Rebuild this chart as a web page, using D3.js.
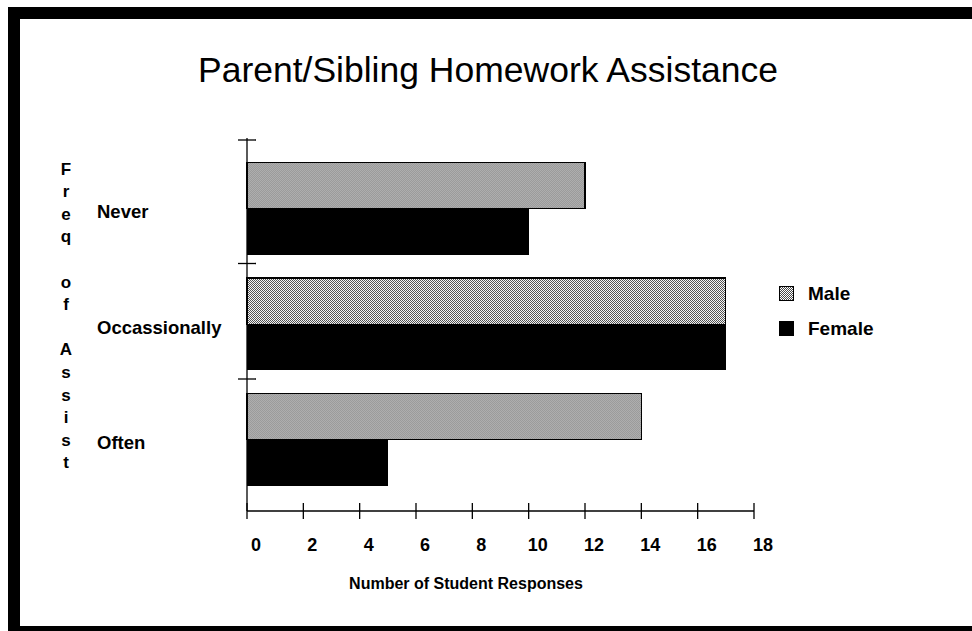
<!DOCTYPE html>
<html>
<head>
<meta charset="utf-8">
<script src="https://cdn.jsdelivr.net/npm/d3@7/dist/d3.min.js"></script>
<style>
  html, body { margin: 0; padding: 0; background: #fff; }
  svg { display: block; }
  text { font-family: "Liberation Sans", Arial, Helvetica, sans-serif; fill: #000; }
</style>
</head>
<body>
<svg id="chart" width="972" height="631"></svg>
<script>
// Frequency of homework help from parents or siblings, by gender
const categories = ["Never", "Occassionally", "Often"];
const seriesNames = ["Male", "Female"];
const maleValues = [12, 17, 14];
const femaleValues = [10, 17, 5];
const xTickValues = [0, 2, 4, 6, 8, 10, 12, 14, 16, 18];
// Stacked y-axis title, one character per line
const axisTitle = "Freq of Assist";

const svg = d3.select("#chart");
const W = 972, H = 631;

svg.append("rect").attr("width", W).attr("height", H).attr("fill", "#fff");

// Fine halftone fill for the male bars
const defs = svg.append("defs");
const pat = defs.append("pattern")
  .attr("id", "halftone")
  .attr("width", 2).attr("height", 2)
  .attr("patternUnits", "userSpaceOnUse");
pat.append("rect").attr("width", 2).attr("height", 2).attr("fill", "#fff");
pat.append("rect").attr("x", 0).attr("y", 0).attr("width", 1).attr("height", 1).attr("fill", "#4a4a4a");
pat.append("rect").attr("x", 1).attr("y", 1).attr("width", 1).attr("height", 1).attr("fill", "#4a4a4a");

const fills = { Male: "url(#halftone)", Female: "#000" };

// Frame
svg.append("rect").attr("x", 8).attr("y", 7).attr("width", W - 8).attr("height", 12).attr("fill", "#000");
svg.append("rect").attr("x", 8).attr("y", 7).attr("width", 12).attr("height", H - 7).attr("fill", "#000");
svg.append("rect").attr("x", 8).attr("y", 626).attr("width", W - 8).attr("height", 5).attr("fill", "#000");

// Title
svg.append("text")
  .attr("x", 488).attr("y", 82)
  .attr("text-anchor", "middle")
  .attr("font-size", 35)
  .attr("textLength", 580)
  .attr("lengthAdjust", "spacingAndGlyphs")
  .text("Parent/Sibling Homework Assistance");

// Scales
const x = d3.scaleLinear().domain([0, 18]).range([247, 754]);
const y = d3.scaleBand().domain(categories).range([151, 497.5])
  .paddingInner(0.2).paddingOuter(0.1);
const ySub = d3.scaleBand().domain(seriesNames).range([0, y.bandwidth()]);

const rows = categories.map((c, i) => ({ cat: c, Male: maleValues[i], Female: femaleValues[i] }));

// Bars
const groups = svg.append("g").selectAll("g")
  .data(rows).join("g")
  .attr("transform", d => `translate(0,${y(d.cat)})`);

groups.selectAll("rect")
  .data(d => seriesNames.map(s => ({ s, v: d[s] })))
  .join("rect")
  .attr("x", x(0))
  .attr("y", d => ySub(d.s))
  .attr("width", d => x(d.v) - x(0))
  .attr("height", ySub.bandwidth())
  .attr("fill", d => fills[d.s])
  .attr("stroke", d => d.s === "Male" ? "#000" : "none")
  .attr("stroke-width", 1.2)
  .attr("shape-rendering", "crispEdges");

// X axis
const xAxisY = 511;
const xAxis = svg.append("g").attr("transform", `translate(0,${xAxisY})`);
xAxis.append("line").attr("x1", x(0)).attr("x2", x(18)).attr("stroke", "#000").attr("stroke-width", 1.3);
xAxis.selectAll("line.tick").data(xTickValues).join("line")
  .attr("class", "tick")
  .attr("x1", d => x(d)).attr("x2", d => x(d))
  .attr("y1", -8).attr("y2", 8)
  .attr("stroke", "#000").attr("stroke-width", 1.3);
xAxis.selectAll("text").data(xTickValues).join("text")
  .attr("x", d => x(d) + 9).attr("y", 40)
  .attr("text-anchor", "middle")
  .attr("font-size", 18).attr("font-weight", "bold")
  .text(d => d);

svg.append("text")
  .attr("x", 466).attr("y", 589)
  .attr("text-anchor", "middle")
  .attr("font-size", 16).attr("font-weight", "bold")
  .text("Number of Student Responses");

// Y axis
const yAxis = svg.append("g");
const yTop = 138;
yAxis.append("line").attr("x1", x(0)).attr("x2", x(0)).attr("y1", yTop).attr("y2", xAxisY)
  .attr("stroke", "#000").attr("stroke-width", 1.3);
const step = y.step();
const yTicks = [yTop + 2].concat(categories.slice(1).map(c => y(c) - step * y.paddingInner() / 2 - 3));
yAxis.selectAll("line.tick").data(yTicks).join("line")
  .attr("class", "tick")
  .attr("x1", x(0) - 9).attr("x2", x(0) + 9)
  .attr("y1", d => d).attr("y2", d => d)
  .attr("stroke", "#000").attr("stroke-width", 1.3);

// Category labels, centred on each band
svg.append("g").selectAll("text")
  .data(categories).join("text")
  .attr("x", 97)
  .attr("y", d => y(d) + y.bandwidth() / 2 + 3)
  .attr("dominant-baseline", "central")
  .attr("font-size", 18.5).attr("font-weight", "bold")
  .text(d => d);

// Vertical stacked axis title
const letterTop = 169, letterStep = 22.6;
svg.append("g").selectAll("text")
  .data(Array.from(axisTitle).map((ch, i) => ({ ch, i })).filter(d => d.ch !== " "))
  .join("text")
  .attr("x", 66)
  .attr("y", d => letterTop + d.i * letterStep)
  .attr("text-anchor", "middle")
  .attr("dominant-baseline", "central")
  .attr("font-size", 17).attr("font-weight", "bold")
  .text(d => d.ch);

// Legend
const legend = svg.append("g").attr("transform", "translate(779,286)");
const li = legend.selectAll("g").data(seriesNames).join("g")
  .attr("transform", (d, i) => `translate(0,${i * 35})`);
li.append("rect")
  .attr("width", 14).attr("height", 14)
  .attr("fill", d => fills[d])
  .attr("stroke", "#000").attr("stroke-width", 1)
  .attr("shape-rendering", "crispEdges");
li.append("text")
  .attr("x", 29).attr("y", 7)
  .attr("dominant-baseline", "central")
  .attr("font-size", 19).attr("font-weight", "bold")
  .text(d => d);
</script>
</body>
</html>
